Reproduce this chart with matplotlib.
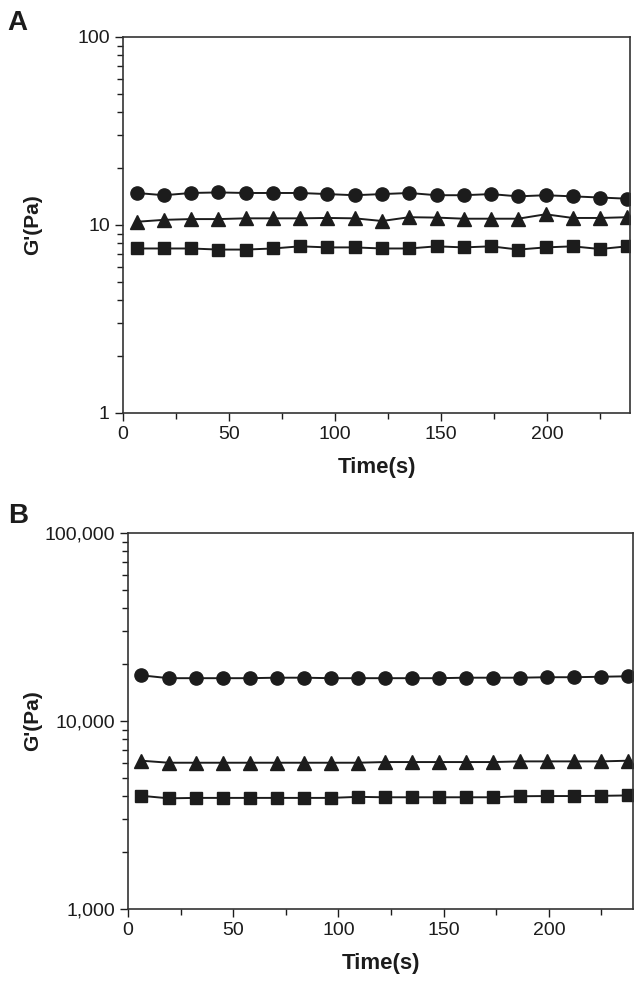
import numpy as np
import matplotlib
matplotlib.use("Agg")
import matplotlib.pyplot as plt
from matplotlib.ticker import FixedLocator, LogLocator, FuncFormatter, NullFormatter

plt.rcParams['font.family'] = ['Liberation Sans Narrow', 'Liberation Sans', 'DejaVu Sans']

# time points (s)
time_s = [6.4, 19.3, 32.1, 45.0, 57.8, 70.7, 83.5, 96.4, 109.2, 122.1,
          134.9, 147.8, 160.6, 173.5, 186.3, 199.2, 212.0, 224.9, 237.7]

# panel A  G'(Pa)
a_circle = [14.8, 14.4, 14.8, 14.9, 14.8, 14.8, 14.8, 14.6, 14.4, 14.6,
            14.8, 14.4, 14.4, 14.6, 14.2, 14.4, 14.2, 14.0, 13.8]
a_triangle = [10.4, 10.65, 10.75, 10.75, 10.85, 10.85, 10.85, 10.9, 10.85, 10.5,
              11.0, 10.95, 10.8, 10.8, 10.8, 11.4, 10.9, 10.9, 11.0]
a_square = [7.5, 7.5, 7.5, 7.4, 7.4, 7.5, 7.7, 7.6, 7.6, 7.5,
            7.5, 7.7, 7.6, 7.7, 7.4, 7.6, 7.7, 7.45, 7.7]

# panel B  G'(Pa)
b_circle = [17500, 16900, 16900, 16900, 16900, 17000, 17000, 16900, 16900, 16900,
            16900, 16900, 17000, 17000, 17000, 17100, 17100, 17200, 17300]
b_triangle = [6150, 6000, 6000, 6000, 6000, 6000, 6000, 6000, 6000, 6050,
              6050, 6050, 6050, 6050, 6100, 6100, 6100, 6100, 6150]
b_square = [4000, 3880, 3900, 3900, 3900, 3900, 3900, 3900, 3950, 3930,
            3930, 3930, 3930, 3930, 3980, 3990, 3990, 4000, 4020]

INK = "#1c1c1c"


def DrawPanel(ax, circ, tri, sq, ylim, xlim, fmt):
    ax.plot(time_s, circ, color=INK, lw=1.4, marker='o', ms=9.5)
    ax.plot(time_s, tri, color=INK, lw=1.4, marker='^', ms=9.5)
    ax.plot(time_s, sq, color=INK, lw=1.4, marker='s', ms=8)
    ax.set_yscale('log')
    ax.set_ylim(*ylim)
    ax.set_xlim(*xlim)
    ax.xaxis.set_major_locator(FixedLocator([0, 50, 100, 150, 200]))
    ax.xaxis.set_minor_locator(FixedLocator([25, 75, 125, 175, 225]))
    ax.yaxis.set_major_locator(LogLocator(base=10))
    ax.yaxis.set_minor_locator(LogLocator(base=10, subs=np.arange(2, 10)))
    ax.yaxis.set_major_formatter(FuncFormatter(fmt))
    ax.yaxis.set_minor_formatter(NullFormatter())
    ax.tick_params(which='major', direction='out', length=6, width=1.0,
                   labelsize=14, colors=INK)
    ax.tick_params(which='minor', direction='out', length=4, width=1.0, colors=INK)
    ax.tick_params(axis='x', which='both', top=False)
    ax.tick_params(axis='y', which='both', right=False)
    for s in ax.spines.values():
        s.set_linewidth(1.2)
        s.set_color("#333333")
    ax.set_xlabel("Time(s)", fontsize=16, fontweight='bold', color=INK, labelpad=10)
    ax.set_ylabel("G'(Pa)", fontsize=15, fontweight='bold', color=INK,
                  family=['Liberation Sans', 'DejaVu Sans'])


fig = plt.figure(figsize=(6.42, 9.84), dpi=100)

axA = fig.add_axes([0.1916, 0.5803, 0.7897, 0.3821])
DrawPanel(axA, a_circle, a_triangle, a_square, (1, 100), (0, 239),
          lambda v, p: f"{int(round(v))}")
axA.yaxis.set_label_coords(-0.16, 0.5)

axB = fig.add_axes([0.1994, 0.0762, 0.7866, 0.3821])
DrawPanel(axB, b_circle, b_triangle, b_square, (1000, 100000), (0, 240),
          lambda v, p: f"{int(round(v)):,}")
axB.yaxis.set_label_coords(-0.17, 0.5)

fig.text(0.012, 0.977, "A", fontsize=20, fontweight='bold', color=INK,
         family=['Liberation Sans', 'DejaVu Sans'], va='center')
fig.text(0.012, 0.476, "B", fontsize=20, fontweight='bold', color=INK,
         family=['Liberation Sans', 'DejaVu Sans'], va='center')

fig.savefig("out.png", dpi=100)
